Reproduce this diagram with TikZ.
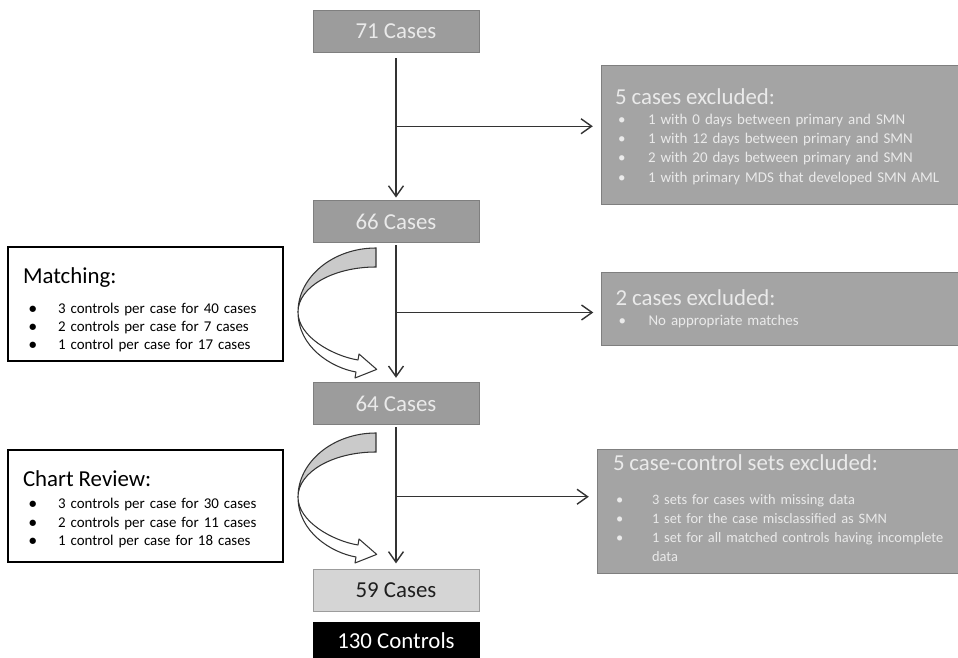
\documentclass[tikz,border=0pt]{standalone}
\usepackage{fontspec}
\setmainfont{Carlito}
\usetikzlibrary{arrows.meta,calc}

\definecolor{boxgray}{HTML}{9C9C9C}
\definecolor{boxedge}{HTML}{7F7F7F}
\definecolor{exgray}{HTML}{A4A4A4}
\definecolor{paletext}{HTML}{EAEAEA}
\definecolor{lightbox}{HTML}{D5D5D5}
\definecolor{backface}{HTML}{CACACA}
\definecolor{linegray}{HTML}{333333}

\newcommand{\hd}{\fontsize{13}{15}\selectfont}
\newcommand{\exbul}[1][0.6cm]{\hspace*{0.06cm}\makebox[#1][l]{\textbullet}}
\newcommand{\nbul}{\hspace*{0.12cm}\makebox[0.58cm][l]{\textbf{\textbullet}}}

\tikzset{
  countbox/.style={draw=boxedge, fill=boxgray, text=paletext, minimum width=3.32cm,
    minimum height=0.84cm, inner sep=0pt, font=\fontsize{13}{15}\selectfont},
  exbox/.style={draw=boxedge, fill=exgray, text=paletext, text width=6.92cm,
    inner xsep=0.28cm, inner ysep=0pt, align=left, font=\fontsize{8.5}{11}\selectfont},
  notebox/.style={draw=black, line width=0.8pt, fill=white, text width=4.9cm,
    inner xsep=0.3cm, inner ysep=0pt, align=left, font=\fontsize{8.5}{10.8}\selectfont},
  flow/.style={draw=linegray, line width=0.8pt, -{Straight Barb[length=6pt,width=8.5pt]}},
  twistarrow/.pic={
    % back of the band
    \draw[linegray, line width=0.6pt, fill=backface] (0,0) .. controls (-43,0) and (-78,29) .. (-78,64)
      .. controls (-78,39) and (-43,19) .. (0,19) -- cycle;
    % front of the band and head
    \draw[linegray, line width=0.6pt, fill=white, line join=round] (-78,64)
      .. controls (-78,99) and (-44.6,119.7) .. (-20,124) -- (-21,130) -- (0.7,121.4)
      -- (-17,106) -- (-18,112) .. controls (-42.6,108) and (-78,89) .. (-78,64) -- cycle;
  }
}

\begin{document}
\begin{tikzpicture}[x=0.02cm, y=-0.02cm]
  \useasboundingbox (0,0) rectangle (958,658);

  \node[countbox] (c71) at (396,31) {71 Cases};
  \node[countbox] (c66) at (396,221.5) {66 Cases};
  \node[countbox] (c64) at (396,403.5) {64 Cases};
  \node[countbox, fill=lightbox, draw=boxgray, text=black!88] (c59) at (396,590) {59 Cases};
  \node[countbox, fill=black, draw=black, text=white, minimum height=0.76cm] (ctl) at (396,641) {130 Controls};

  \node[exbox, minimum height=2.78cm] (ex1) at (788,134.5) {{\hd\rule{0pt}{11.5pt}5 cases excluded:}\\[0.3pt]
    \exbul 1 with 0 days between primary and SMN\\
    \exbul 1 with 12 days between primary and SMN\\
    \exbul 2 with 20 days between primary and SMN\\
    \exbul 1 with primary MDS that developed SMN AML};
  \node[exbox, minimum height=1.46cm] (ex2) at (788.5,308.5) {{\hd 2 cases excluded:}\\[0.3pt]
    \exbul No appropriate matches};
  \node[exbox, inner xsep=0.32cm, minimum height=2.48cm, font=\fontsize{8.2}{10.8}\selectfont] (ex3) at (786,511)
    {{\hd 5 case-control sets excluded:}\\[8.5pt]
    \exbul[0.72cm]3 sets for cases with missing data\\
    \exbul[0.72cm]1 set for the case misclassified as SMN\\
    \exbul[0.72cm]1 set for all matched controls having incomplete\\
    \hspace*{0.78cm}data\rule[-3.1pt]{0pt}{0pt}};

  \node[notebox, minimum height=2.28cm, font=\fontsize{8.5}{10.2}\selectfont] (match) at (145.5,304)
    {{\hd\rule{0pt}{16pt}Matching:}\\[6.8pt]
    \nbul 3 controls per case for 40 cases\\
    \nbul 2 controls per case for 7 cases\\
    \nbul 1 control per case for 17 cases};
  \node[notebox, minimum height=2.24cm] (chart) at (145.5,506)
    {{\hd\rule{0pt}{13pt}Chart Review:}\\[1.5pt]
    \nbul 3 controls per case for 30 cases\\
    \nbul 2 controls per case for 11 cases\\
    \nbul 1 control per case for 18 cases};

  \coordinate (j1) at ($(c71.south)!0.5!(c66.north)$);
  \coordinate (j2) at ($(c66.south)!0.5!(c64.north)$);
  \coordinate (j3) at ($(c64.south)!0.5!(c59.north)$);

  \draw[flow, shorten <=3.5pt, shorten >=1.5pt] (c71) -- (c66);
  \draw[flow, shorten <=1.5pt, shorten >=2.5pt] (c66) -- (c64);
  \draw[flow, shorten <=1.5pt, shorten >=3pt] (c64) -- (c59);
  \foreach \j/\ex in {j1/ex1, j2/ex2, j3/ex3}
    \draw[flow, shorten >=4.5pt] (\j) -- (\j -| \ex.west);

  \pic at (376,248) {twistarrow};
  \pic at (376,433) {twistarrow};
\end{tikzpicture}
\end{document}
